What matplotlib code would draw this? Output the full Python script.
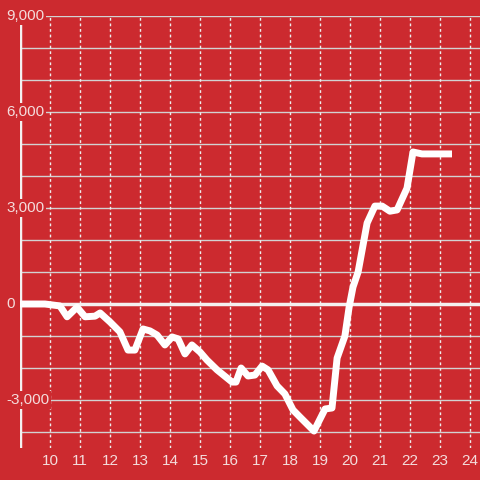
import numpy as np
import matplotlib
matplotlib.use("Agg")
import matplotlib.pyplot as plt

plt.rcParams['font.family'] = ['Liberation Sans', 'DejaVu Sans']

BG = '#cc2a2f'
FG = '#f4dcdc'

# series
hours = [9.0, 9.83, 10.33, 10.57, 10.9, 11.17, 11.5, 11.67, 12.0, 12.33, 12.6, 12.83,
         13.1, 13.33, 13.57, 13.83, 14.07, 14.27, 14.5, 14.73, 15.0, 15.23, 15.57,
         16.07, 16.2, 16.37, 16.6, 16.83, 17.07, 17.27, 17.57, 17.83, 18.1, 18.33,
         18.8, 19.17, 19.4, 19.57, 19.83, 19.97, 20.1, 20.27, 20.57, 20.83, 21.07,
         21.33, 21.57, 21.9, 22.1, 22.4, 23.4]
values = [0, 0, -60, -400, -100, -400, -380, -280, -560, -870, -1440, -1440,
          -780, -840, -970, -1280, -1030, -1090, -1560, -1280, -1500, -1750, -2060,
          -2440, -2440, -2000, -2250, -2220, -1940, -2060, -2560, -2810, -3310, -3530,
          -3970, -3280, -3250, -1690, -1000, -100, 530, 1000, 2530, 3060, 3060,
          2900, 2940, 3620, 4750, 4690, 4690]

x_ticks = list(range(10, 25))
y_grid = list(range(-4000, 9001, 1000))
y_ticks = [-3000, 0, 3000, 6000, 9000]
y_labels = ['-3,000', '0', '3,000', '6,000', '9,000']

fig = plt.figure(figsize=(4.8, 4.8), dpi=100, facecolor=BG)
ax = fig.add_axes([20/480, 32/480, 460/480, 432/480])
ax.set_facecolor(BG)
ax.set_xlim(9, 9 + 460/30)
ax.set_ylim(-4500, 9000)
for s in ax.spines.values():
    s.set_visible(False)
ax.set_xticks([])
ax.set_yticks([])

for y in y_grid:
    if y != 0:
        ax.axhline(y, color='#d2d2d2', lw=1, zorder=1)
for x in x_ticks:
    ax.axvline(x, color='#eeeeee', lw=1, ls=(0, (2, 2)), zorder=1)
    ax.text(x, -4500 - 13*31.25, str(x), ha='center', va='center',
            color=FG, fontsize=11, clip_on=False)

ax.axhline(0, color='#f4f0f0', lw=2.5, zorder=2)
ax.axvline(9.0, ymin=0.0, ymax=(8750 + 4500)/13500, color='#f4f0f0', lw=2.5, zorder=2)

ax.plot(hours, values, color='white', lw=5, solid_joinstyle='round',
        solid_capstyle='butt', zorder=3)

for y, lab in zip(y_ticks, y_labels):
    ax.text(-14/460, y, lab, transform=ax.get_yaxis_transform(), ha='left', va='center',
            color=FG, fontsize=11, clip_on=False, zorder=5,
            bbox=dict(facecolor=BG, edgecolor='none', pad=1.5))

fig.savefig('out.png', dpi=100, facecolor=BG)
